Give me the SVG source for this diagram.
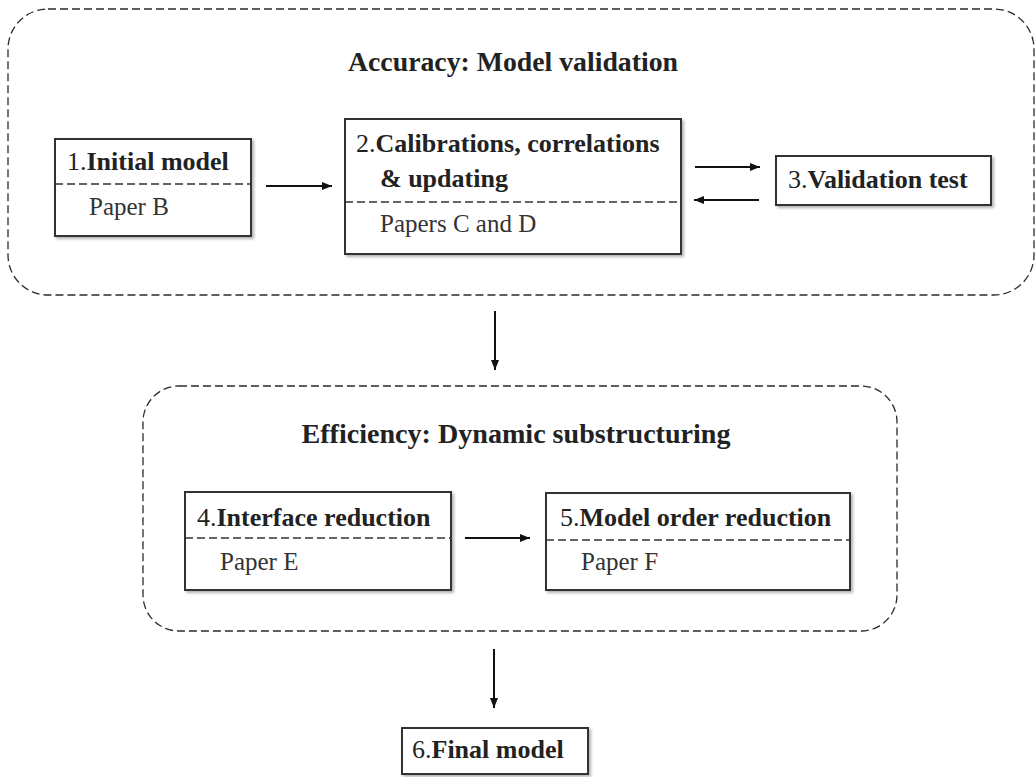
<svg xmlns="http://www.w3.org/2000/svg" width="1036" height="777" viewBox="0 0 1036 777">
  <style>
    .grp { fill: none; stroke: #2a2a2a; stroke-width: 1.3; stroke-dasharray: 8 4; }
    .box { fill: #ffffff; stroke: #333333; stroke-width: 2; filter: url(#shadow); }
    .div { stroke: #333333; stroke-width: 1.5; stroke-dasharray: 8 4; }
    .title { font-family: "Liberation Serif", "DejaVu Serif", serif; font-size: 28px; font-weight: bold; fill: #222222; }
    .lbl { font-family: "Liberation Serif", "DejaVu Serif", serif; font-size: 26px; fill: #222222; }
    .lbl .b { font-weight: bold; }
    .paper { font-family: "Liberation Serif", "DejaVu Serif", serif; font-size: 25px; fill: #333333; }
    .conn { stroke: #111111; stroke-width: 2; fill: none; marker-end: url(#arrow); }
  </style>
  <defs>
    <filter id="shadow" x="-10%" y="-10%" width="125%" height="130%">
      <feDropShadow dx="2" dy="2" stdDeviation="1.5" flood-color="#000000" flood-opacity="0.3"/>
    </filter>
    <marker id="arrow" viewBox="0 0 10 8" refX="10" refY="4" markerWidth="10" markerHeight="8" markerUnits="userSpaceOnUse" orient="auto">
      <path d="M0,0 L10,4 L0,8 z" fill="#111111"/>
    </marker>
  </defs>
  <rect width="1036" height="777" fill="#ffffff"/>

  <g id="group-accuracy">
    <rect class="grp" x="8" y="9" width="1026" height="286" rx="40" ry="40"/>
    <text class="title" x="513" y="71" text-anchor="middle" textLength="330" lengthAdjust="spacingAndGlyphs">Accuracy: Model validation</text>
  </g>

  <g id="group-efficiency">
    <rect class="grp" x="143" y="386" width="754" height="245" rx="36" ry="36"/>
    <text class="title" x="516" y="443" text-anchor="middle" textLength="429" lengthAdjust="spacingAndGlyphs">Efficiency: Dynamic substructuring</text>
  </g>

  <g id="node1">
    <rect class="box" x="55" y="139" width="196" height="97"/>
    <line class="div" x1="55" y1="184" x2="251" y2="184"/>
    <text class="lbl" x="67" y="170">1.<tspan class="b">Initial model</tspan></text>
    <text class="paper" x="89" y="215">Paper B</text>
  </g>

  <g id="node2">
    <rect class="box" x="345" y="119" width="336" height="135"/>
    <line class="div" x1="345" y1="202" x2="681" y2="202"/>
    <text class="lbl" x="356" y="152">2.<tspan class="b">Calibrations, correlations</tspan></text>
    <text class="lbl" x="380" y="187"><tspan class="b">&amp; updating</tspan></text>
    <text class="paper" x="380" y="232">Papers C and D</text>
  </g>

  <g id="node3">
    <rect class="box" x="776" y="156" width="215" height="49"/>
    <text class="lbl" x="788" y="188">3.<tspan class="b">Validation test</tspan></text>
  </g>

  <g id="node4">
    <rect class="box" x="185" y="492" width="266" height="98"/>
    <line class="div" x1="185" y1="538" x2="451" y2="538"/>
    <text class="lbl" x="197" y="526">4.<tspan class="b">Interface reduction</tspan></text>
    <text class="paper" x="220" y="570">Paper E</text>
  </g>

  <g id="node5">
    <rect class="box" x="546" y="493" width="304" height="97"/>
    <line class="div" x1="546" y1="540" x2="850" y2="540"/>
    <text class="lbl" x="560" y="526">5.<tspan class="b">Model order reduction</tspan></text>
    <text class="paper" x="581" y="570">Paper F</text>
  </g>

  <g id="node6">
    <rect class="box" x="402" y="728" width="186" height="46"/>
    <text class="lbl" x="412" y="758">6.<tspan class="b">Final model</tspan></text>
  </g>

  <g id="connectors">
    <line class="conn" x1="266" y1="186" x2="332" y2="186"/>
    <line class="conn" x1="695" y1="167" x2="760" y2="167"/>
    <line class="conn" x1="759" y1="200" x2="694" y2="200"/>
    <line class="conn" x1="495" y1="311" x2="495" y2="370"/>
    <line class="conn" x1="465" y1="538" x2="530" y2="538"/>
    <line class="conn" x1="494" y1="649" x2="494" y2="708"/>
  </g>
</svg>
